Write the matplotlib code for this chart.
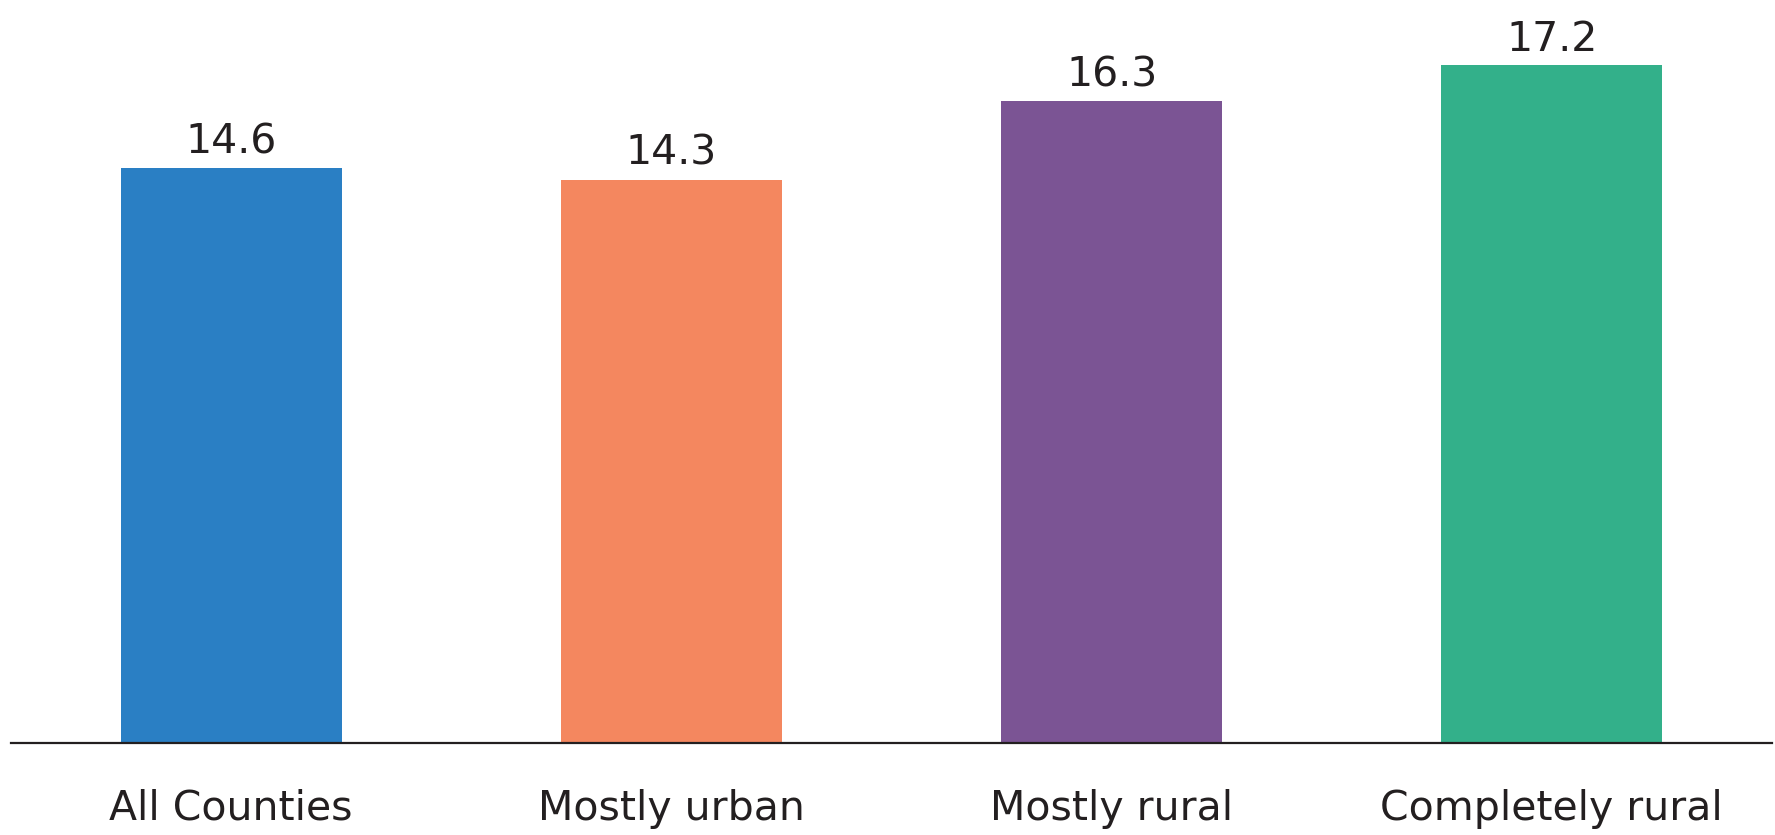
import matplotlib

matplotlib.use("Agg")
import matplotlib.pyplot as plt

categories = ["All Counties", "Mostly urban", "Mostly rural", "Completely rural"]
values = [14.6, 14.3, 16.3, 17.2]
colors = ["#2A7FC4", "#F4875F", "#7B5494", "#33B08A"]

plt.rcParams["font.family"] = ["DejaVu Sans"]
text_color = "#231F20"

fig = plt.figure(figsize=(17.75, 8.35), dpi=100)
# axis spans 11..1772 px horizontally, baseline at y=743 px
ax = fig.add_axes([11 / 1775, 92 / 835, 1761 / 1775, 729 / 835])

x = range(len(categories))
ax.bar(x, values, width=0.502, color=colors, zorder=2)
for xi, v in zip(x, values):
    ax.annotate(f"{v:.1f}", (xi, v), xytext=(0, 4), textcoords="offset points",
                ha="center", va="bottom", fontsize=29.5, color=text_color)

ax.set_xlim(-0.5, 3.5)
ax.set_ylim(0, 18.5)
ax.set_yticks([])
ax.set_xticks(list(x))
ax.set_xticklabels(categories, fontsize=29.5, color=text_color)
ax.tick_params(axis="x", length=0, pad=33)
for side in ["top", "right", "left"]:
    ax.spines[side].set_visible(False)
ax.spines["bottom"].set_linewidth(1.6)
ax.spines["bottom"].set_color(text_color)

fig.savefig("out.png", dpi=100)
